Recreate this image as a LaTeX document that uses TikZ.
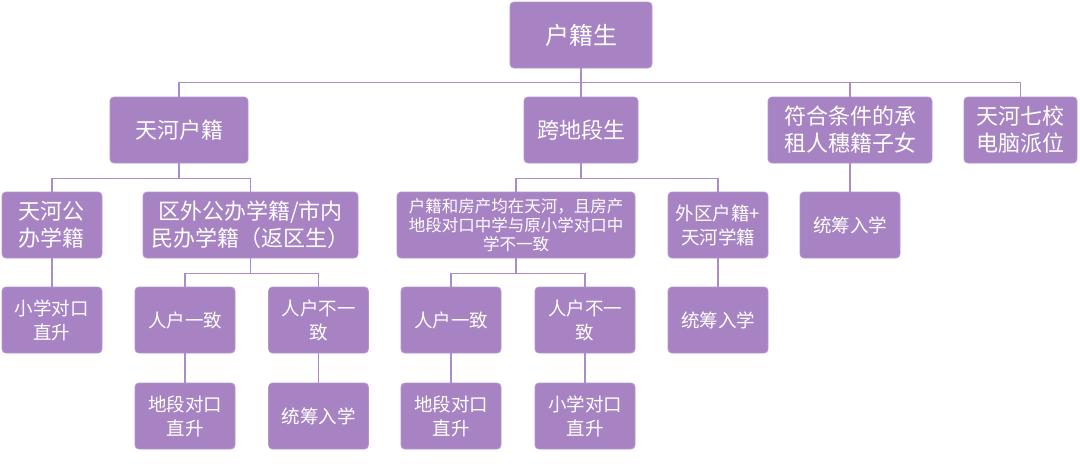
\documentclass[tikz,border=0pt]{standalone}
\usepackage{fontspec}
\newfontfamily\cjk{Noto Sans CJK SC}
\usetikzlibrary{positioning}
\definecolor{boxfill}{RGB}{167,131,196}
\definecolor{linecol}{RGB}{170,140,202}
\tikzset{
  box/.style={draw=boxfill!85!white, line width=0.8pt, fill=boxfill, rounded corners=4pt,
    text=white, align=center, inner sep=0pt, minimum height=66pt},
  big/.style={font=\cjk\fontsize{22}{27}\selectfont},
  small/.style={font=\cjk\fontsize{18.5}{24}\selectfont},
  tiny/.style={font=\cjk\fontsize{16.5}{19}\selectfont},
  link/.style={draw=linecol, line width=1.1pt}
}
\begin{document}
\begin{tikzpicture}[x=1pt,y=-1pt,on grid]
      \useasboundingbox (0,0) rectangle (1080,472);
      \node[box, big, font=\cjk\fontsize{24}{28}\selectfont, minimum width=142pt] (root) at (581,35) {户籍生};
      \node[box, big, minimum width=114pt] (kd) [below=95pt of root] {跨地段生};
      \node[box, big, minimum width=138pt] (hh) [left=402pt of kd] {天河户籍};
      \node[box, big, minimum width=164pt] (fh) [right=269pt of kd] {符合条件的承\\租人穗籍子女};
      \node[box, big, minimum width=113pt] (qx) [right=170.5pt of fh] {天河七校\\电脑派位};
      % second row
      \node[box, big, minimum width=100pt] (tg) [below left=95pt and 127pt of hh] {天河公\\办学籍};
      \node[box, big, minimum width=215pt] (qw) [below right=95pt and 71.5pt of hh] {区外公办学籍/市内\\民办学籍（返区生）};
      \node[box, tiny, minimum width=238pt] (hf) [below left=95pt and 65pt of kd] {户籍和房产均在天河，且房产\\地段对口中学与原小学对口中\\学不一致};
      \node[box, small, minimum width=100pt] (wq) [below right=95pt and 137pt of kd] {外区户籍+\\天河学籍};
      \node[box, small, minimum width=100pt] (tc1) [below=95pt of fh] {统筹入学};
      % third row
      \node[box, small, minimum width=100pt] (xz1) [below=95pt of tg] {小学对口\\直升};
      \node[box, small, minimum width=100pt] (ry1) [below left=95pt and 65.5pt of qw] {人户一致};
      \node[box, small, minimum width=100pt] (rb1) [below right=95pt and 68pt of qw] {人户不一\\致};
      \node[box, small, minimum width=100pt] (ry2) [below left=95pt and 65pt of hf] {人户一致};
      \node[box, small, minimum width=100pt] (rb2) [below right=95pt and 69pt of hf] {人户不一\\致};
      \node[box, small, minimum width=100pt] (tc2) [below=95pt of wq] {统筹入学};
      % fourth row
      \node[box, small, minimum width=100pt] (dd1) [below=96pt of ry1] {地段对口\\直升};
      \node[box, small, minimum width=100pt] (tc3) [below=96pt of rb1] {统筹入学};
      \node[box, small, minimum width=100pt] (dd2) [below=96pt of ry2] {地段对口\\直升};
      \node[box, small, minimum width=100pt] (xz2) [below=96pt of rb2] {小学对口\\直升};
      \draw[link] (root.south) -- ++(0,14.5) -| (hh.north);
      \draw[link] (root.south) -- ++(0,14.5) -| (qx.north);
      \draw[link] (root.south) -- (kd.north);
      \draw[link] (root.south) ++(0,14.5) -| (fh.north);
      \draw[link] (hh.south) -- ++(0,15) -| (tg.north);
      \draw[link] (hh.south) -- ++(0,15) -| (qw.north);
      \draw[link] (kd.south) -- ++(0,15) -| (hf.north);
      \draw[link] (kd.south) -- ++(0,15) -| (wq.north);
      \draw[link] (fh.south) -- (tc1.north);
      \draw[link] (tg.south) -- (xz1.north);
      \draw[link] (qw.south) -- ++(0,15) -| (ry1.north);
      \draw[link] (qw.south) -- ++(0,15) -| (rb1.north);
      \draw[link] (hf.south) -- ++(0,15) -| (ry2.north);
      \draw[link] (hf.south) -- ++(0,15) -| (rb2.north);
      \draw[link] (wq.south) -- (tc2.north);
      \draw[link] (ry1.south) -- (dd1.north);
      \draw[link] (rb1.south) -- (tc3.north);
      \draw[link] (ry2.south) -- (dd2.north);
      \draw[link] (rb2.south) -- (xz2.north);
    \end{tikzpicture}
\end{document}
